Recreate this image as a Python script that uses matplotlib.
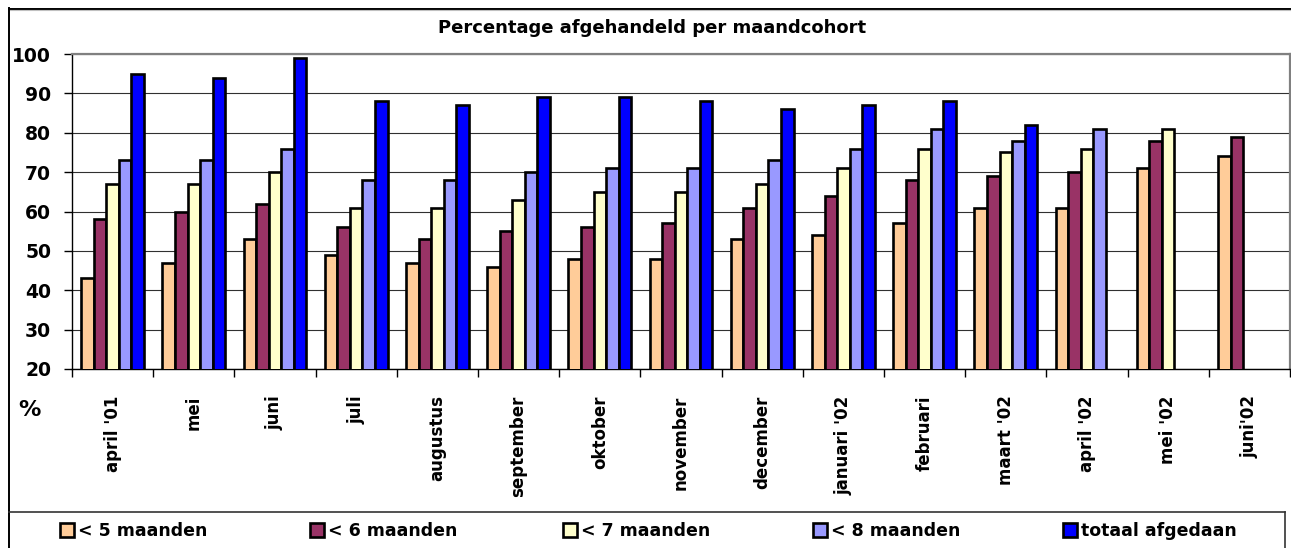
import numpy as np
import matplotlib
matplotlib.use("Agg")
import matplotlib.pyplot as plt
from matplotlib.lines import Line2D

plt.rcParams['font.family'] = ['DejaVu Sans']
plt.rcParams['font.weight'] = 'bold'

categories = ["april '01", "mei", "juni", "juli", "augustus", "september", "oktober",
              "november", "december", "januari '02", "februari", "maart '02",
              "april '02", "mei '02", "juni'02"]
series_names = ["< 5 maanden", "< 6 maanden", "< 7 maanden", "< 8 maanden", "totaal afgedaan"]
lt5 = [43, 47, 53, 49, 47, 46, 48, 48, 53, 54, 57, 61, 61, 71, 74]
lt6 = [58, 60, 62, 56, 53, 55, 56, 57, 61, 64, 68, 69, 70, 78, 79]
lt7 = [67, 67, 70, 61, 61, 63, 65, 65, 67, 71, 76, 75, 76, 81, None]
lt8 = [73, 73, 76, 68, 68, 70, 71, 71, 73, 76, 81, 78, 81, None, None]
totaal = [95, 94, 99, 88, 87, 89, 89, 88, 86, 87, 88, 82, None, None, None]
colors = ["#FFCC99", "#993366", "#FFFFCC", "#9999FF", "#0000FF"]
yticks = [20, 30, 40, 50, 60, 70, 80, 90, 100]

W, H = 1291, 548
fig = plt.figure(figsize=(W / 100, H / 100), dpi=100)
ax_l, ax_r, ax_t, ax_b = 72, 1290, 54, 369
ax = fig.add_axes([ax_l / W, 1 - ax_b / H, (ax_r - ax_l) / W, (ax_b - ax_t) / H])

x = np.arange(len(categories))
bw = 0.155
handles = []
for i, (vals, col, name) in enumerate(zip([lt5, lt6, lt7, lt8, totaal], colors, series_names)):
    xs = [x[j] + (i - 2) * bw for j, v in enumerate(vals) if v is not None]
    hs = [v for v in vals if v is not None]
    bars = ax.bar(xs, hs, width=bw, color=col, edgecolor='black', linewidth=1.9,
                  zorder=3, label=name)
    handles.append(bars)

ax.set_xlim(-0.5, len(categories) - 0.5)
ax.set_ylim(20, 100)
ax.set_yticks(yticks)
ax.set_yticklabels([str(t) for t in yticks], fontsize=13.5, fontweight='bold')
ax.yaxis.grid(True, color='#303030', linewidth=0.8, zorder=0)
ax.set_axisbelow(True)

ax.set_xticks(x)
ax.set_xticklabels(categories, rotation=90, fontsize=12, fontweight='bold', va='top', ha='center')
ax.set_xticks(np.arange(-0.5, len(categories), 1.0), minor=True)
ax.tick_params(axis='x', which='major', length=0, pad=19)
ax.tick_params(axis='x', which='minor', length=6, width=1, color='black', direction='out')
ax.tick_params(axis='y', which='major', length=6, width=1, color='black', pad=9)

for s in ['top', 'right']:
    ax.spines[s].set_color('#808080')
    ax.spines[s].set_linewidth(1.6)
for s in ['left', 'bottom']:
    ax.spines[s].set_color('black')
    ax.spines[s].set_linewidth(1.0)

# title
fig.text(652 / W, 1 - 28 / H, "Percentage afgehandeld per maandcohort",
         ha='center', va='center', fontsize=13, fontweight='bold')
# percent sign
fig.text(29 / W, 1 - 410 / H, "%", ha='center', va='center', fontsize=16, fontweight='bold')

# outer borders
def fline(x0, y0, x1, y1, color='black', lw=1.2):
    fig.add_artist(Line2D([x0 / W, x1 / W], [1 - y0 / H, 1 - y1 / H],
                          color=color, linewidth=lw, transform=fig.transFigure))

fline(9, 8.5, W, 8.5, 'black', 1.4)
fline(9, 10, W, 10, '#C0C0C0', 0.8)
fline(9, 8, 9, H, 'black', 1.4)
fline(9, 512, 1285, 512, '#333333', 1.2)
fline(1285, 512, 1285, H, '#333333', 1.2)

# legend items
leg_x = [60, 310, 563, 813, 1063]
for hx, h, name in zip(leg_x, handles, series_names):
    lg = fig.legend([h], [name], loc='center left', bbox_to_anchor=(hx / W, 1 - 531 / H),
                    frameon=False, borderpad=0, borderaxespad=0,
                    handlelength=0.8, handleheight=0.8, handletextpad=0.25,
                    prop={'weight': 'bold', 'size': 12.5})

fig.savefig("out.png", dpi=100)
